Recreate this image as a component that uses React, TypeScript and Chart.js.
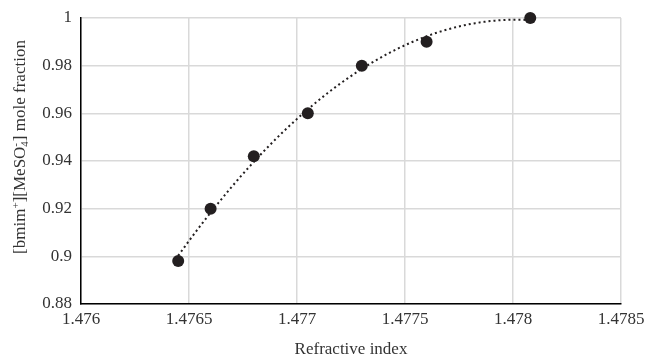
import React, { useEffect, useRef } from "react";
import { Chart, registerables } from "chart.js";

Chart.register(...registerables);

// Measured samples
const refractiveIndex = [1.47645, 1.4766, 1.4768, 1.47705, 1.4773, 1.4776, 1.47808];
const moleFraction = [0.898, 0.92, 0.942, 0.96, 0.98, 0.99, 1.0];

// Axis ticks
const xTicks = [1.476, 1.4765, 1.477, 1.4775, 1.478, 1.4785];
const yTicks = [0.88, 0.9, 0.92, 0.94, 0.96, 0.98, 1];

const xTitle = "Refractive index";
// y title pieces: level 0 = normal, 1 = superscript, -1 = subscript
const yTitleParts: { text: string; level: number; stack?: boolean }[] = [
  { text: "[bmim", level: 0 },
  { text: "+", level: 1 },
  { text: "][MeSO", level: 0 },
  { text: "4", level: -1 },
  { text: "-", level: 1, stack: true },
  { text: "] mole fraction", level: 0 },
];

const INK = "#231f20";
const TEXT = "#333333";
const GRID = "#d9d9d9";
const FONT = "'Liberation Serif', 'Times New Roman', serif";

// Least-squares polynomial trend (order 2)
function quadraticTrend(xs: number[], ys: number[]) {
  const n = xs.length;
  const x0 = xs.reduce((a, b) => a + b, 0) / n;
  const us = xs.map((x) => (x - x0) * 1e4);
  const s = [0, 0, 0, 0, 0];
  const t = [0, 0, 0];
  us.forEach((u, i) => {
    for (let k = 0; k < 5; k++) s[k] += Math.pow(u, k);
    for (let k = 0; k < 3; k++) t[k] += Math.pow(u, k) * ys[i];
  });
  const m = [
    [s[0], s[1], s[2], t[0]],
    [s[1], s[2], s[3], t[1]],
    [s[2], s[3], s[4], t[2]],
  ];
  for (let c = 0; c < 3; c++) {
    for (let r = c + 1; r < 3; r++) {
      const f = m[r][c] / m[c][c];
      for (let k = c; k < 4; k++) m[r][k] -= f * m[c][k];
    }
  }
  const coef = [0, 0, 0];
  for (let r = 2; r >= 0; r--) {
    let v = m[r][3];
    for (let k = r + 1; k < 3; k++) v -= m[r][k] * coef[k];
    coef[r] = v / m[r][r];
  }
  return (x: number) => {
    const u = (x - x0) * 1e4;
    return coef[0] + coef[1] * u + coef[2] * u * u;
  };
}

function trendPoints(xs: number[], ys: number[], steps: number) {
  const f = quadraticTrend(xs, ys);
  const lo = Math.min(...xs);
  const hi = Math.max(...xs);
  const pts: { x: number; y: number }[] = [];
  for (let i = 0; i <= steps; i++) {
    const x = lo + ((hi - lo) * i) / steps;
    pts.push({ x, y: f(x) });
  }
  return pts;
}

const axisTitles = {
  id: "axisTitles",
  afterDraw(chart: Chart) {
    const { ctx, chartArea } = chart;
    ctx.save();
    ctx.fillStyle = TEXT;
    // x title
    ctx.font = `17px ${FONT}`;
    ctx.textAlign = "center";
    ctx.textBaseline = "alphabetic";
    ctx.fillText(xTitle, (chartArea.left + chartArea.right) / 2, 354);

    // y title, rotated with super/subscripts
    const big = `17px ${FONT}`;
    const small = `11px ${FONT}`;
    let total = 0;
    let prevW = 0;
    const widths = yTitleParts.map((p) => {
      ctx.font = p.level === 0 ? big : small;
      return ctx.measureText(p.text).width;
    });
    yTitleParts.forEach((p, i) => {
      if (p.stack) {
        total += Math.max(0, widths[i] - prevW);
      } else {
        total += widths[i];
      }
      prevW = widths[i];
    });
    ctx.translate(25, 147);
    ctx.rotate(-Math.PI / 2);
    ctx.textAlign = "left";
    ctx.textBaseline = "alphabetic";
    let x = -total / 2;
    let lastStart = x;
    yTitleParts.forEach((p, i) => {
      ctx.font = p.level === 0 ? big : small;
      const dy = p.level === 1 ? -6.5 : p.level === -1 ? 3 : 0;
      const startX = p.stack ? lastStart : x;
      ctx.fillText(p.text, startX, dy);
      if (p.stack) {
        x = Math.max(x, startX + widths[i]);
      } else {
        lastStart = x;
        x += widths[i];
      }
    });
    ctx.restore();
  },
};

export default function App() {
  const canvasRef = useRef<HTMLCanvasElement | null>(null);

  useEffect(() => {
    const canvas = canvasRef.current;
    if (!canvas) return;
    const chart = new Chart(canvas, {
      type: "scatter",
      data: {
        datasets: [
          {
            label: "data",
            data: refractiveIndex.map((x, i) => ({ x, y: moleFraction[i] })),
            backgroundColor: INK,
            borderColor: INK,
            pointRadius: 6,
            pointHoverRadius: 6,
            pointBorderWidth: 0,
            showLine: false,
            clip: false,
            order: 0,
          },
          {
            label: "trend",
            data: trendPoints(refractiveIndex, moleFraction, 160),
            showLine: true,
            borderColor: INK,
            borderWidth: 2,
            borderDash: [2, 3],
            pointRadius: 0,
            fill: false,
            tension: 0,
            clip: false,
            order: 1,
          },
        ],
      },
      options: {
        animation: false,
        responsive: true,
        maintainAspectRatio: false,
        devicePixelRatio: 1,
        layout: { padding: { left: 0, right: 25, top: 18, bottom: 0 } },
        plugins: {
          legend: { display: false },
          tooltip: { enabled: false },
          title: { display: false },
        },
        scales: {
          x: {
            type: "linear",
            min: xTicks[0],
            max: xTicks[xTicks.length - 1],
            afterBuildTicks: (scale: any) => {
              scale.ticks = xTicks.map((v) => ({ value: v }));
            },
            afterFit: (scale: any) => {
              scale.height = 53;
              scale.paddingLeft = 0;
              scale.paddingRight = 0;
            },
            ticks: {
              callback: (v: any) => String(v),
              color: TEXT,
              font: { family: FONT, size: 17 },
              padding: 5,
              maxRotation: 0,
              autoSkip: false,
            },
            grid: { color: GRID, lineWidth: 1.5, drawTicks: false },
            border: { display: true, color: "#000000", width: 1.5 },
          },
          y: {
            type: "linear",
            min: yTicks[0],
            max: yTicks[yTicks.length - 1],
            afterBuildTicks: (scale: any) => {
              scale.ticks = yTicks.map((v) => ({ value: v }));
            },
            afterFit: (scale: any) => {
              scale.width = 81;
              scale.paddingTop = 0;
              scale.paddingBottom = 0;
            },
            ticks: {
              callback: (v: any) => String(v),
              color: TEXT,
              font: { family: FONT, size: 17 },
              padding: 9,
              autoSkip: false,
            },
            grid: { color: GRID, lineWidth: 1.5, drawTicks: false },
            border: { display: true, color: "#000000", width: 1.5 },
          },
        },
      },
      plugins: [axisTitles],
    });
    return () => chart.destroy();
  }, []);

  return (
    <div
      style={{
        position: "absolute",
        left: 0,
        top: 0,
        width: 646,
        height: 357,
        background: "#ffffff",
      }}
    >
      <canvas ref={canvasRef} />
    </div>
  );
}
